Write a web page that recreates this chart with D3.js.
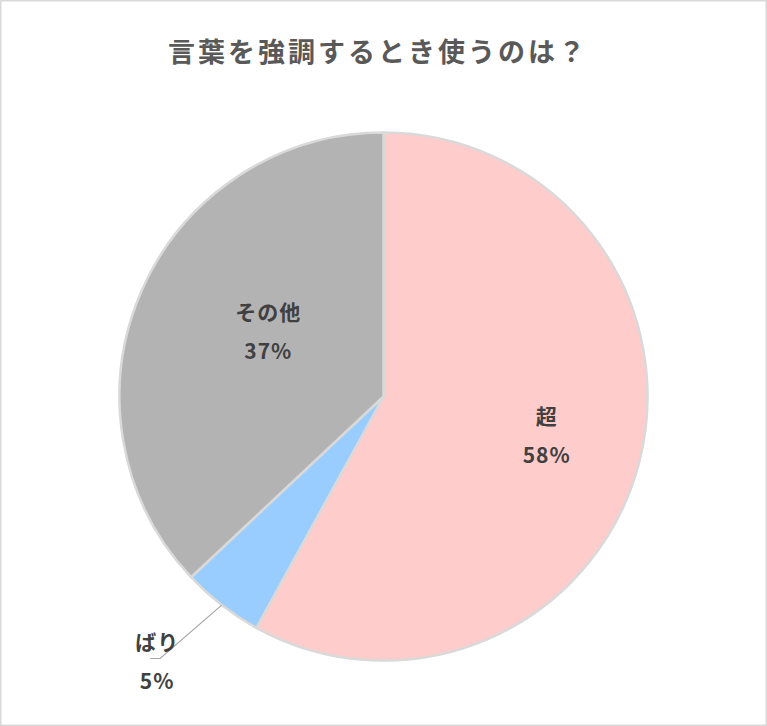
<!DOCTYPE html>
<html>
<head>
<meta charset="utf-8">
<script src="https://cdn.jsdelivr.net/npm/d3@7"></script>
<style>
  html, body { margin: 0; padding: 0; background: #fff; }
  svg { display: block; }
  text { font-family: "Noto Sans CJK JP", "Noto Sans", sans-serif; }
</style>
</head>
<body>
<svg id="chart"></svg>
<script>
// Data
const categories = ["超", "ばり", "その他"];
const shares = [58, 5, 37];
const sliceColors = ["#ffcccc", "#99ccff", "#b3b3b3"];
const titleText = "言葉を強調するとき使うのは？";

// Label placement per slice: radius factor and small angle shift (deg)
const labelStyle = {
    "超": { r: 0.636, shift: -0.8, outside: false },
    "ばり": { r: 1.323, shift: 2.6, outside: true },
    "その他": { r: 0.5, shift: 5.8, outside: false }
};

const width = 767, height = 726;
const cx = 383.5, cy = 396.5, radius = 264;

const svg = d3.select("#chart").attr("width", width).attr("height", height);

// Chart border
svg.append("rect")
    .attr("x", 0.75).attr("y", 0.75)
    .attr("width", width - 1.5).attr("height", height - 1.5)
    .attr("fill", "#fff")
    .attr("stroke", "#d9d9d9")
    .attr("stroke-width", 1.5);

// Title
svg.append("text")
    .attr("x", 378)
    .attr("y", 62)
    .attr("text-anchor", "middle")
    .attr("fill", "#595959")
    .attr("font-size", 27)
    .attr("font-weight", "bold")
    .attr("letter-spacing", 3)
    .text(titleText);

const data = categories.map((c, i) => ({ name: c, value: shares[i], color: sliceColors[i] }));

const pie = d3.pie().sort(null).value(d => d.value);
const arcs = pie(data);

const arc = d3.arc().innerRadius(0).outerRadius(radius);

const g = svg.append("g").attr("transform", `translate(${cx},${cy})`);

g.selectAll("path.slice")
    .data(arcs)
    .enter().append("path")
    .attr("class", "slice")
    .attr("d", arc)
    .attr("fill", d => d.data.color)
    .attr("stroke", "#d9d9d9")
    .attr("stroke-width", 2.5)
    .attr("stroke-linejoin", "round");

function polar(angle, r) {
    return [Math.sin(angle) * r, -Math.cos(angle) * r];
}

arcs.forEach(d => {
    const st = labelStyle[d.data.name];
    const mid = (d.startAngle + d.endAngle) / 2;
    const [lx, ly] = polar(mid + st.shift * Math.PI / 180, radius * st.r);

    if (st.outside) {
        // Leader line from slice edge to label
        const [ex, ey] = polar(mid, radius);
        g.append("polyline")
            .attr("points", [[ex, ey], [lx + 3, ly - 4], [lx - 7, ly - 4]].map(p => p.join(",")).join(" "))
            .attr("fill", "none")
            .attr("stroke", "#a6a6a6")
            .attr("stroke-width", 1.2);
    }

    const label = g.append("text")
        .attr("text-anchor", "middle")
        .attr("fill", "#404040")
        .attr("font-size", 21)
        .attr("font-weight", "bold")
        .attr("letter-spacing", 1);

    label.append("tspan")
        .attr("x", lx)
        .attr("y", ly - 12)
        .text(d.data.name);

    label.append("tspan")
        .attr("x", lx)
        .attr("y", ly + 27)
        .text(d.data.value + "%");
});
</script>
</body>
</html>
